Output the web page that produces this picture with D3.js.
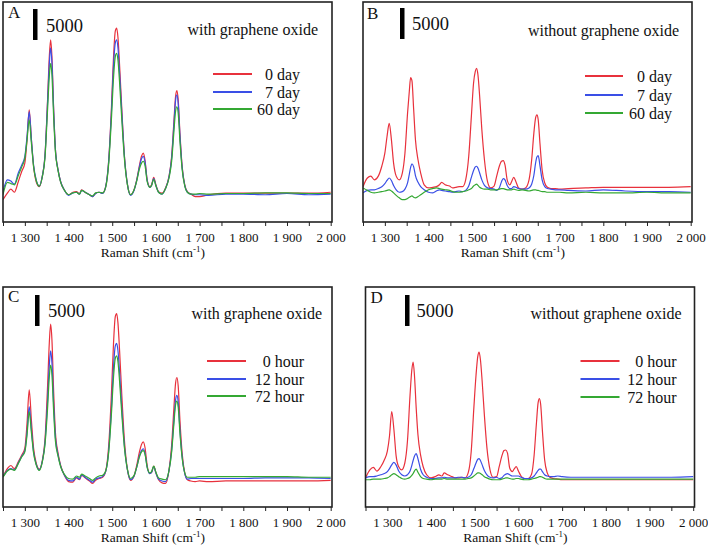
<!DOCTYPE html>
<html><head><meta charset="utf-8">
<script src="https://cdn.jsdelivr.net/npm/d3@7"></script>
<style>
body{margin:0;background:#fff}
svg{display:block}
text{font-family:"Liberation Serif","Times New Roman",serif;fill:#111}
</style>
</head><body><svg id="c" width="708" height="548"></svg>
<script>
// Raman shift grid (cm-1)
const ramanShift = [
1250,1260,1268,1276,1285,1293,1300,1305,1310,1315,
1320,1326,1333,1340,1346,1352,1356,1359,1362,1366,
1370,1376,1382,1390,1400,1410,1418,1425,1430,1438,
1448,1455,1462,1470,1478,1485,1492,1498,1503,1507,
1510,1513,1517,1522,1528,1535,1542,1550,1556,1562,
1567,1571,1575,1580,1586,1590,1595,1600,1606,1614,
1622,1630,1636,1641,1645,1648,1651,1655,1660,1666,
1672,1680,1690,1700,1720,1760,1800,1850,1900,1950,
2000];

// Panel A: with graphene oxide (days)
const aDay0 = [
-900,150,800,300,2000,3700,5000,8800,13600,8800,
4500,2000,1200,2900,6100,15200,22200,24900,22200,13600,
7200,3900,2000,700,-100,300,400,50,700,300,
-100,-400,150,300,150,1200,5500,13600,22200,26300,
26800,25400,20600,13600,6100,1500,-100,700,2300,4500,
6100,6600,5500,2300,1200,1500,2700,1500,400,150,
1000,2900,6100,11500,15800,16700,15200,9800,4500,1500,
400,0,-400,-400,-100,150,150,150,150,150,
300];
const aDay7 = [
400,2300,2100,1600,3400,4700,6100,9300,13300,8800,
4700,2300,1300,2900,6100,14800,21000,23600,21200,13400,
7200,3900,2000,700,-200,200,300,0,600,300,
-100,-400,100,300,100,1200,5400,13000,20800,24400,
24900,23700,19300,13000,6000,1500,-200,600,2200,4300,
5700,6100,5200,2200,1100,1400,2500,1400,300,0,
900,2800,5800,11000,15100,16000,14600,9400,4300,1400,
300,0,-100,-100,-200,0,0,-100,100,-100,
0];
const aDay60 = [
-100,1900,1700,1500,3000,4400,5800,8700,12000,8200,
4400,2200,1300,2800,5800,13600,19000,21100,19200,12300,
6800,3800,1900,700,-100,200,300,0,600,300,
-100,-300,200,300,200,1100,5000,11900,18800,22200,
22700,21700,17800,11900,5600,1400,-100,700,2100,4000,
5000,5300,4600,2000,1100,1400,2400,1300,300,0,
900,2600,5300,9900,13400,14100,13000,8500,4000,1300,
300,0,0,100,0,100,100,200,200,100,
100];

// Panel B: without graphene oxide (days)
const bDay0 = [
1200,2600,2900,2300,2900,4500,6600,9300,11400,8800,
5000,2900,2300,3400,6600,13100,16600,18800,18300,13600,
8800,5500,3400,1500,1000,1100,1200,1500,1900,1500,
1300,1000,1100,1200,1200,2300,6100,12500,17900,19800,
20300,19300,15800,10400,5500,2000,1000,1300,2900,4500,
5300,5400,4700,2300,1500,2000,2700,2000,1000,800,
1000,2300,5500,9800,12300,12800,12000,8200,3900,1800,
1100,900,900,800,900,1000,1100,1100,1100,1100,
1200];
const bDay7 = [
200,600,700,700,900,1200,1700,2200,2600,2200,
1400,700,300,400,800,1800,3200,4300,4900,4400,
3000,1900,1200,700,300,200,500,700,600,500,
400,300,400,500,400,600,1300,2700,3800,4400,
4500,4200,3400,2300,1400,1000,900,800,600,1000,
2000,2500,2300,1400,900,900,1200,1100,900,800,
800,1000,1600,3000,5000,6000,6200,4600,2300,1200,
900,800,700,700,600,500,700,500,400,400,
300];
const bDay60 = [
1000,600,300,200,300,400,500,600,700,500,
200,-200,-600,-900,-900,-700,-500,-400,-300,-500,
-600,-400,-100,300,700,900,1000,900,800,700,
600,400,300,300,400,500,700,900,1300,1500,
1600,1400,1100,900,800,800,700,700,700,800,
900,900,800,700,700,700,800,700,600,700,
600,500,600,700,700,600,600,500,400,400,
300,300,300,300,200,300,200,200,300,200,
200];

// Panel C: with graphene oxide (hours)
const cHour0 = [
400,1700,2200,1700,2800,3900,5000,9000,14400,9500,
5000,2600,1600,3000,6300,15000,22000,25000,22500,14000,
7500,4200,2200,700,-400,-500,200,-100,600,200,
-300,-700,-200,100,300,1300,5500,13500,22000,26200,
26700,25300,20500,13500,6200,1500,-200,500,2200,4300,
5600,6000,5100,2200,900,1100,2100,1000,-100,-600,
-700,1500,5500,11300,15500,16400,15000,9500,4200,1000,
-100,-300,-400,-300,-400,-300,-300,-300,-300,-300,
-200];
const cHour12 = [
400,1400,1700,1500,2600,3700,4600,7600,11700,8000,
4400,2400,1500,2900,5800,12700,18400,20700,18800,12000,
6700,3900,2100,700,-200,-300,300,0,700,300,
-200,-500,0,200,400,1200,4700,11200,18200,21500,
21900,20800,17000,11300,5300,1400,-100,500,1900,3700,
4600,4900,4200,1900,900,1100,2000,1000,0,-300,
-400,1400,4700,9400,12800,13500,12400,7900,3600,900,
0,100,100,100,100,100,100,200,200,200,
100];
const cHour72 = [
300,1300,1600,1400,2500,3600,4400,7100,10900,7500,
4200,2300,1400,2800,5500,11400,16500,18400,16800,10800,
6100,3700,2000,800,100,0,500,300,800,500,
100,-200,200,500,600,1300,4400,10300,16500,19500,
19900,19000,15600,10400,5000,1500,100,600,1900,3500,
4400,4600,4000,1900,1000,1200,2100,1100,200,0,
-100,1400,4400,8800,12000,12600,11600,7400,3400,1000,
300,300,300,400,400,400,400,400,400,300,
300];

// Panel D: without graphene oxide (hours)
const dHour0 = [
200,1500,1900,1300,2000,3100,4500,7000,10900,8000,
3800,2000,1500,2600,6100,13600,17600,18900,16800,11500,
7200,3900,2000,700,200,400,700,500,1000,700,
400,200,200,300,200,1000,4500,11500,16800,19800,
20500,19300,15800,10400,5000,1500,300,400,2000,3700,
4600,4700,4200,1800,1200,1600,2000,1300,500,100,
100,800,3900,8800,12300,13000,12000,7700,3100,1000,
300,100,0,-100,-100,-100,-100,-100,-100,-100,
-100];
const dHour12 = [
200,400,400,500,700,900,1200,1700,2300,2700,
2300,1300,700,500,700,1300,2200,3000,3700,4100,
3300,1600,700,300,100,100,200,200,300,200,
200,200,300,300,200,300,700,1700,2600,3200,
3300,3000,2300,1400,700,300,200,300,100,200,
600,800,900,700,500,500,500,500,300,100,
100,200,500,1000,1400,1600,1600,1200,700,500,
400,400,500,400,300,300,300,300,300,300,
400];
const dHour72 = [
-100,-100,0,0,0,100,200,400,700,900,
700,400,100,0,100,300,600,900,1300,1600,
1100,400,100,0,-100,0,0,0,100,0,
0,0,0,0,0,100,200,500,800,1000,
1000,900,700,400,200,0,-100,-100,-100,0,
100,200,200,100,0,0,100,100,0,-100,
-100,0,100,200,300,400,400,300,100,0,
0,0,0,0,0,0,0,0,0,0,
0];

const dayLabels = ["0 day", "7 day", "60 day"];
const hourLabels = ["0 hour", "12 hour", "72 hour"];
const panelLetters = ["A", "B", "C", "D"];
const panelNotes = ["with graphene oxide", "without graphene oxide", "with graphene oxide", "without graphene oxide"];
const majorTicks = [1300, 1400, 1500, 1600, 1700, 1800, 1900, 2000];
const minorTicks = [1250, 1350, 1450, 1550, 1650, 1750, 1850, 1950];
const scaleBarValue = 5000;
const axisTitle = "Raman Shift (cm";
const seriesColors = ["#e8313c", "#3a4fe6", "#34a833"];

const W = 708, H = 548, PW = 329, PH = 220;
const svg = d3.select("#c");

const panels = [
  {left:3, top:2, series:[aDay0,aDay7,aDay60], labels:dayLabels,
   leg:{x1:210,x2:249,ys:[72,90,107],tx:297}, note:[315,33], letter:[5,16], bar:[30,7], barText:[43,30]},
  {left:363, top:2, series:[bDay0,bDay7,bDay60], labels:dayLabels,
   leg:{x1:222,x2:260,ys:[74,93,111],tx:309}, note:[316,34], letter:[4,17], bar:[37,6], barText:[49,28]},
  {left:3, top:287, series:[cHour0,cHour12,cHour72], labels:hourLabels,
   leg:{x1:204,x2:243,ys:[74,92,109],tx:301}, note:[319,32], letter:[5,15], bar:[32,8], barText:[45,30]},
  {left:365.5, top:287, series:[dHour0,dHour12,dHour72], labels:hourLabels,
   leg:{x1:215,x2:254,ys:[74,92,110],tx:311}, note:[316,32], letter:[5,16], bar:[39.5,8], barText:[51,30]}
];

const x = d3.scaleLinear().domain([1250, 2003]).range([0, PW]);
const y = d3.scaleLinear().domain([-4500, 31000]).range([PH, 0]);
const fmt = d => { const s = String(d); return s.slice(0, s.length - 3) + " " + s.slice(-3); };

panels.forEach((p, i) => {
  const g = svg.append("g").attr("transform", `translate(${p.left},${p.top})`);
  const cid = "clip" + i;
  g.append("clipPath").attr("id", cid).append("rect").attr("width", PW).attr("height", PH);

  const line = d3.line().x((d, k) => x(ramanShift[k])).y(d => y(d)).curve(d3.curveMonotoneX);
  const lg = g.append("g").attr("clip-path", `url(#${cid})`);
  p.series.forEach((s, k) => {
    lg.append("path").attr("d", line(s)).attr("fill", "none")
      .attr("stroke", seriesColors[k]).attr("stroke-width", 1.2).attr("stroke-linejoin", "round");
  });

  // frame
  g.append("rect").attr("width", PW).attr("height", PH).attr("fill", "none")
    .attr("stroke", "#222").attr("stroke-width", 1.6);

  // axes
  const ax = g.append("g").attr("transform", `translate(0,${PH})`)
    .call(d3.axisBottom(x).tickValues(majorTicks).tickSize(4).tickPadding(7).tickFormat(fmt));
  ax.select(".domain").remove();
  ax.selectAll("text").attr("font-size", 13).attr("font-family", '"Liberation Serif", serif').attr("fill", "#111");
  ax.selectAll("line").attr("stroke", "#222");
  const mx = g.append("g").attr("transform", `translate(0,${PH})`)
    .call(d3.axisBottom(x).tickValues(minorTicks).tickSize(4).tickFormat(""));
  mx.select(".domain").remove();
  mx.selectAll("line").attr("stroke", "#222");

  const t = g.append("text").attr("x", x(1593)).attr("y", PH + 35).attr("text-anchor", "middle").attr("font-size", 13.5);
  t.append("tspan").text(axisTitle);
  t.append("tspan").attr("font-size", 9).attr("dy", -5).text("-1");
  t.append("tspan").attr("dy", 5).text(")");

  // panel letter
  g.append("text").attr("x", p.letter[0]).attr("y", p.letter[1]).attr("font-size", 17).text(panelLetters[i]);
  // scale bar
  g.append("rect").attr("x", p.bar[0]).attr("y", p.bar[1]).attr("width", 4.5)
    .attr("height", y(0) - y(scaleBarValue)).attr("fill", "#000");
  g.append("text").attr("x", p.barText[0]).attr("y", p.barText[1]).attr("font-size", 18.5).text(String(scaleBarValue));
  // note
  g.append("text").attr("x", p.note[0]).attr("y", p.note[1]).attr("text-anchor", "end").attr("font-size", 16).text(panelNotes[i]);
  // legend
  p.labels.forEach((lab, k) => {
    g.append("line").attr("x1", p.leg.x1).attr("x2", p.leg.x2).attr("y1", p.leg.ys[k]).attr("y2", p.leg.ys[k])
      .attr("stroke", seriesColors[k]).attr("stroke-width", 2.2);
    g.append("text").attr("x", p.leg.tx).attr("y", p.leg.ys[k] + 5.5).attr("text-anchor", "end").attr("font-size", 16).text(lab);
  });
});
</script>
</body></html>
